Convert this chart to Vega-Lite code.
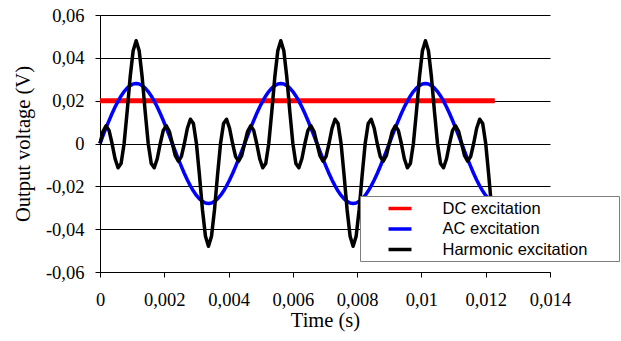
{
  "$schema": "https://vega.github.io/schema/vega-lite/v6.json",
  "autosize": {"type": "none"},
  "width": 450,
  "height": 257,
  "padding": {"left": 100, "top": 15, "right": 71, "bottom": 69},
  "background": "white",
  "config": {
    "locale": {"number": {"decimal": ",", "thousands": ".", "grouping": [3], "currency": ["", " €"], "minus": "-"}},
    "view": {"stroke": null},
    "axis": {
      "domainColor": "black", "tickColor": "black", "labelColor": "black", "titleColor": "black",
      "labelFont": "Liberation Serif", "titleFont": "Liberation Serif",
      "labelFontSize": 18.5, "titleFontSize": 20.5, "titleFontWeight": "normal",
      "tickSize": 5, "domainWidth": 1, "tickWidth": 1
    }
  },
  "data": {"values": [
    {"t": 0, "d": 0.02, "a": 0, "h": 0},
    {"t": 0.00009375, "d": 0.02, "a": 0.00365, "h": 0.00571},
    {"t": 0.0001875, "d": 0.02, "a": 0.00725, "h": 0.00828},
    {"t": 0.00028125, "d": 0.02, "a": 0.01072, "h": 0.00612},
    {"t": 0.000375, "d": 0.02, "a": 0.014, "h": 0},
    {"t": 0.00046875, "d": 0.02, "a": 0.01705, "h": -0.00713},
    {"t": 0.0005625, "d": 0.02, "a": 0.0198, "h": -0.01131},
    {"t": 0.00065625, "d": 0.02, "a": 0.02221, "h": -0.00929},
    {"t": 0.00075, "d": 0.02, "a": 0.02425, "h": 0},
    {"t": 0.00084375, "d": 0.02, "a": 0.02587, "h": 0.01478},
    {"t": 0.0009375, "d": 0.02, "a": 0.02705, "h": 0.03091},
    {"t": 0.00103125, "d": 0.02, "a": 0.02776, "h": 0.04334},
    {"t": 0.001125, "d": 0.02, "a": 0.028, "h": 0.048},
    {"t": 0.00121875, "d": 0.02, "a": 0.02776, "h": 0.04334},
    {"t": 0.0013125, "d": 0.02, "a": 0.02705, "h": 0.03091},
    {"t": 0.00140625, "d": 0.02, "a": 0.02587, "h": 0.01478},
    {"t": 0.0015, "d": 0.02, "a": 0.02425, "h": 0},
    {"t": 0.00159375, "d": 0.02, "a": 0.02221, "h": -0.00929},
    {"t": 0.0016875, "d": 0.02, "a": 0.0198, "h": -0.01131},
    {"t": 0.00178125, "d": 0.02, "a": 0.01705, "h": -0.00713},
    {"t": 0.001875, "d": 0.02, "a": 0.014, "h": 0},
    {"t": 0.00196875, "d": 0.02, "a": 0.01072, "h": 0.00612},
    {"t": 0.0020625, "d": 0.02, "a": 0.00725, "h": 0.00828},
    {"t": 0.00215625, "d": 0.02, "a": 0.00365, "h": 0.00571},
    {"t": 0.00225, "d": 0.02, "a": 0, "h": 0},
    {"t": 0.00234375, "d": 0.02, "a": -0.00365, "h": -0.00571},
    {"t": 0.0024375, "d": 0.02, "a": -0.00725, "h": -0.00828},
    {"t": 0.00253125, "d": 0.02, "a": -0.01072, "h": -0.00612},
    {"t": 0.002625, "d": 0.02, "a": -0.014, "h": 0},
    {"t": 0.00271875, "d": 0.02, "a": -0.01705, "h": 0.00713},
    {"t": 0.0028125, "d": 0.02, "a": -0.0198, "h": 0.01131},
    {"t": 0.00290625, "d": 0.02, "a": -0.02221, "h": 0.00929},
    {"t": 0.003, "d": 0.02, "a": -0.02425, "h": 0},
    {"t": 0.00309375, "d": 0.02, "a": -0.02587, "h": -0.01478},
    {"t": 0.0031875, "d": 0.02, "a": -0.02705, "h": -0.03091},
    {"t": 0.00328125, "d": 0.02, "a": -0.02776, "h": -0.04334},
    {"t": 0.003375, "d": 0.02, "a": -0.028, "h": -0.048},
    {"t": 0.00346875, "d": 0.02, "a": -0.02776, "h": -0.04334},
    {"t": 0.0035625, "d": 0.02, "a": -0.02705, "h": -0.03091},
    {"t": 0.00365625, "d": 0.02, "a": -0.02587, "h": -0.01478},
    {"t": 0.00375, "d": 0.02, "a": -0.02425, "h": 0},
    {"t": 0.00384375, "d": 0.02, "a": -0.02221, "h": 0.00929},
    {"t": 0.0039375, "d": 0.02, "a": -0.0198, "h": 0.01131},
    {"t": 0.00403125, "d": 0.02, "a": -0.01705, "h": 0.00713},
    {"t": 0.004125, "d": 0.02, "a": -0.014, "h": 0},
    {"t": 0.00421875, "d": 0.02, "a": -0.01072, "h": -0.00612},
    {"t": 0.0043125, "d": 0.02, "a": -0.00725, "h": -0.00828},
    {"t": 0.00440625, "d": 0.02, "a": -0.00365, "h": -0.00571},
    {"t": 0.0045, "d": 0.02, "a": 0, "h": 0},
    {"t": 0.00459375, "d": 0.02, "a": 0.00365, "h": 0.00571},
    {"t": 0.0046875, "d": 0.02, "a": 0.00725, "h": 0.00828},
    {"t": 0.00478125, "d": 0.02, "a": 0.01072, "h": 0.00612},
    {"t": 0.004875, "d": 0.02, "a": 0.014, "h": 0},
    {"t": 0.00496875, "d": 0.02, "a": 0.01705, "h": -0.00713},
    {"t": 0.0050625, "d": 0.02, "a": 0.0198, "h": -0.01131},
    {"t": 0.00515625, "d": 0.02, "a": 0.02221, "h": -0.00929},
    {"t": 0.00525, "d": 0.02, "a": 0.02425, "h": 0},
    {"t": 0.00534375, "d": 0.02, "a": 0.02587, "h": 0.01478},
    {"t": 0.0054375, "d": 0.02, "a": 0.02705, "h": 0.03091},
    {"t": 0.00553125, "d": 0.02, "a": 0.02776, "h": 0.04334},
    {"t": 0.005625, "d": 0.02, "a": 0.028, "h": 0.048},
    {"t": 0.00571875, "d": 0.02, "a": 0.02776, "h": 0.04334},
    {"t": 0.0058125, "d": 0.02, "a": 0.02705, "h": 0.03091},
    {"t": 0.00590625, "d": 0.02, "a": 0.02587, "h": 0.01478},
    {"t": 0.006, "d": 0.02, "a": 0.02425, "h": 0},
    {"t": 0.00609375, "d": 0.02, "a": 0.02221, "h": -0.00929},
    {"t": 0.0061875, "d": 0.02, "a": 0.0198, "h": -0.01131},
    {"t": 0.00628125, "d": 0.02, "a": 0.01705, "h": -0.00713},
    {"t": 0.006375, "d": 0.02, "a": 0.014, "h": 0},
    {"t": 0.00646875, "d": 0.02, "a": 0.01072, "h": 0.00612},
    {"t": 0.0065625, "d": 0.02, "a": 0.00725, "h": 0.00828},
    {"t": 0.00665625, "d": 0.02, "a": 0.00365, "h": 0.00571},
    {"t": 0.00675, "d": 0.02, "a": 0, "h": 0},
    {"t": 0.00684375, "d": 0.02, "a": -0.00365, "h": -0.00571},
    {"t": 0.0069375, "d": 0.02, "a": -0.00725, "h": -0.00828},
    {"t": 0.00703125, "d": 0.02, "a": -0.01072, "h": -0.00612},
    {"t": 0.007125, "d": 0.02, "a": -0.014, "h": 0},
    {"t": 0.00721875, "d": 0.02, "a": -0.01705, "h": 0.00713},
    {"t": 0.0073125, "d": 0.02, "a": -0.0198, "h": 0.01131},
    {"t": 0.00740625, "d": 0.02, "a": -0.02221, "h": 0.00929},
    {"t": 0.0075, "d": 0.02, "a": -0.02425, "h": 0},
    {"t": 0.00759375, "d": 0.02, "a": -0.02587, "h": -0.01478},
    {"t": 0.0076875, "d": 0.02, "a": -0.02705, "h": -0.03091},
    {"t": 0.00778125, "d": 0.02, "a": -0.02776, "h": -0.04334},
    {"t": 0.007875, "d": 0.02, "a": -0.028, "h": -0.048},
    {"t": 0.00796875, "d": 0.02, "a": -0.02776, "h": -0.04334},
    {"t": 0.0080625, "d": 0.02, "a": -0.02705, "h": -0.03091},
    {"t": 0.00815625, "d": 0.02, "a": -0.02587, "h": -0.01478},
    {"t": 0.00825, "d": 0.02, "a": -0.02425, "h": 0},
    {"t": 0.00834375, "d": 0.02, "a": -0.02221, "h": 0.00929},
    {"t": 0.0084375, "d": 0.02, "a": -0.0198, "h": 0.01131},
    {"t": 0.00853125, "d": 0.02, "a": -0.01705, "h": 0.00713},
    {"t": 0.008625, "d": 0.02, "a": -0.014, "h": 0},
    {"t": 0.00871875, "d": 0.02, "a": -0.01072, "h": -0.00612},
    {"t": 0.0088125, "d": 0.02, "a": -0.00725, "h": -0.00828},
    {"t": 0.00890625, "d": 0.02, "a": -0.00365, "h": -0.00571},
    {"t": 0.009, "d": 0.02, "a": 0, "h": 0},
    {"t": 0.00909375, "d": 0.02, "a": 0.00365, "h": 0.00571},
    {"t": 0.0091875, "d": 0.02, "a": 0.00725, "h": 0.00828},
    {"t": 0.00928125, "d": 0.02, "a": 0.01072, "h": 0.00612},
    {"t": 0.009375, "d": 0.02, "a": 0.014, "h": 0},
    {"t": 0.00946875, "d": 0.02, "a": 0.01705, "h": -0.00713},
    {"t": 0.0095625, "d": 0.02, "a": 0.0198, "h": -0.01131},
    {"t": 0.00965625, "d": 0.02, "a": 0.02221, "h": -0.00929},
    {"t": 0.00975, "d": 0.02, "a": 0.02425, "h": 0},
    {"t": 0.00984375, "d": 0.02, "a": 0.02587, "h": 0.01478},
    {"t": 0.0099375, "d": 0.02, "a": 0.02705, "h": 0.03091},
    {"t": 0.01003125, "d": 0.02, "a": 0.02776, "h": 0.04334},
    {"t": 0.010125, "d": 0.02, "a": 0.028, "h": 0.048},
    {"t": 0.01021875, "d": 0.02, "a": 0.02776, "h": 0.04334},
    {"t": 0.0103125, "d": 0.02, "a": 0.02705, "h": 0.03091},
    {"t": 0.01040625, "d": 0.02, "a": 0.02587, "h": 0.01478},
    {"t": 0.0105, "d": 0.02, "a": 0.02425, "h": 0},
    {"t": 0.01059375, "d": 0.02, "a": 0.02221, "h": -0.00929},
    {"t": 0.0106875, "d": 0.02, "a": 0.0198, "h": -0.01131},
    {"t": 0.01078125, "d": 0.02, "a": 0.01705, "h": -0.00713},
    {"t": 0.010875, "d": 0.02, "a": 0.014, "h": 0},
    {"t": 0.01096875, "d": 0.02, "a": 0.01072, "h": 0.00612},
    {"t": 0.0110625, "d": 0.02, "a": 0.00725, "h": 0.00828},
    {"t": 0.01115625, "d": 0.02, "a": 0.00365, "h": 0.00571},
    {"t": 0.01125, "d": 0.02, "a": 0, "h": 0},
    {"t": 0.01134375, "d": 0.02, "a": -0.00365, "h": -0.00571},
    {"t": 0.0114375, "d": 0.02, "a": -0.00725, "h": -0.00828},
    {"t": 0.01153125, "d": 0.02, "a": -0.01072, "h": -0.00612},
    {"t": 0.011625, "d": 0.02, "a": -0.014, "h": 0},
    {"t": 0.01171875, "d": 0.02, "a": -0.01705, "h": 0.00713},
    {"t": 0.0118125, "d": 0.02, "a": -0.0198, "h": 0.01131},
    {"t": 0.01190625, "d": 0.02, "a": -0.02221, "h": 0.00929},
    {"t": 0.012, "d": 0.02, "a": -0.02425, "h": 0},
    {"t": 0.01209375, "d": 0.02, "a": -0.02587, "h": -0.01478},
    {"t": 0.0121875, "d": 0.02, "a": -0.02705, "h": -0.03091},
    {"t": 0.01228125, "d": 0.02, "a": -0.02776, "h": -0.04334}
  ]},
  "encoding": {
    "x": {
      "field": "t", "type": "quantitative",
      "scale": {"domain": [0, 0.014], "nice": false, "zero": false},
      "axis": {
        "title": "Time (s)",
        "values": [0, 0.002, 0.004, 0.006, 0.008, 0.01, 0.012, 0.014],
        "format": "~g", "grid": false, "labelFlush": false, "labelOverlap": false,
        "labelFont": "Liberation Serif", "labelFontSize": 18.5,
        "titleFont": "Liberation Serif", "titleFontSize": 20.5,
        "labelPadding": 13, "titlePadding": 2
      }
    }
  },
  "layer": [
    {
      "mark": {"type": "line", "strokeWidth": 5, "strokeJoin": "round", "clip": false},
      "encoding": {
        "y": {
          "field": "d", "type": "quantitative",
          "scale": {"domain": [-0.06, 0.06], "nice": false, "zero": false},
          "axis": {
            "title": "Output voltage (V)",
            "values": [-0.06, -0.04, -0.02, 0, 0.02, 0.04, 0.06],
            "format": "~g", "grid": true, "gridColor": "black", "gridOpacity": 1, "gridWidth": 1,
            "labelFlush": false, "labelOverlap": false,
            "labelFont": "Liberation Serif", "labelFontSize": 18.5,
            "titleFont": "Liberation Serif", "titleFontSize": 20.5,
            "labelPadding": 11, "titlePadding": 12
          }
        },
        "color": {
          "datum": "DC excitation", "type": "nominal",
          "scale": {"domain": ["DC excitation", "AC excitation", "Harmonic excitation"], "range": ["#ff0000", "#0000ff", "#000000"]},
          "legend": {
            "orient": "none", "legendX": 260, "legendY": 181, "title": null, "direction": "vertical",
            "fillColor": "white", "strokeColor": "#7f7f7f", "padding": 3,
            "symbolType": "M-1.53,0H1.53", "symbolSize": 225, "symbolStrokeWidth": 3.5,
            "symbolOffset": 27.5, "labelOffset": 33, "rowPadding": 2.5, "labelLimit": 400,
            "labelFont": "Liberation Sans", "labelFontSize": 16.5, "labelColor": "black",
            "labelExpr": "datum.label + '\u00a0\u2800\u2800'"
          }
        }
      }
    },
    {
      "mark": {"type": "line", "strokeWidth": 3.5, "strokeJoin": "round", "clip": false},
      "encoding": {
        "y": {"field": "a", "type": "quantitative"},
        "color": {"datum": "AC excitation", "type": "nominal"}
      }
    },
    {
      "mark": {"type": "line", "strokeWidth": 3.5, "strokeJoin": "round", "clip": false},
      "encoding": {
        "y": {"field": "h", "type": "quantitative"},
        "color": {"datum": "Harmonic excitation", "type": "nominal"}
      }
    }
  ]
}
